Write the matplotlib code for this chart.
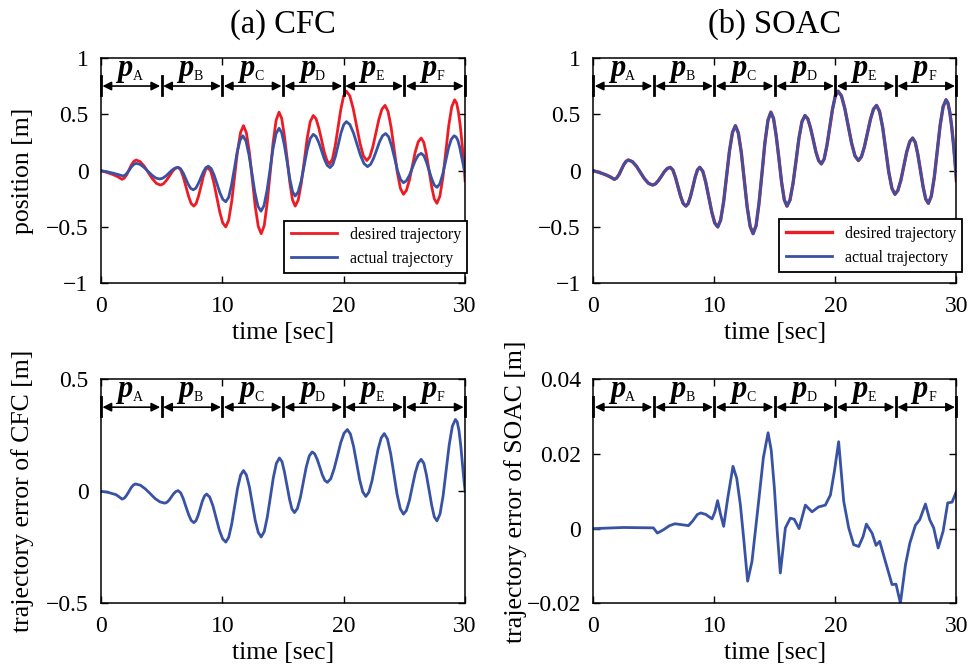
import matplotlib
matplotlib.use("Agg")
import matplotlib.pyplot as plt
from matplotlib.ticker import FuncFormatter

# desired trajectory (same for both controllers)
desired_t = [0, 0.5, 1.0, 1.4,
             1.74, 1.93, 2.13, 2.32, 2.51, 2.71,
             2.9, 3.23, 3.57, 3.9, 4.23, 4.57,
             4.9, 5.14, 5.38, 5.63, 5.87, 6.11,
             6.35, 6.57, 6.78, 7.0, 7.22, 7.43,
             7.65, 7.84, 8.03, 8.23, 8.42, 8.61,
             8.8, 9.05, 9.29, 9.54, 9.79, 10.03,
             10.28, 10.52, 10.77, 11.01, 11.25, 11.5,
             11.74, 11.98, 12.23, 12.47, 12.71, 12.96,
             13.2, 13.45, 13.69, 13.94, 14.18, 14.43,
             14.67, 14.89, 15.11, 15.34, 15.56, 15.78,
             16.0, 16.25, 16.5, 16.75, 16.99, 17.24,
             17.49, 17.72, 17.94, 18.17, 18.39, 18.62,
             18.84, 19.07, 19.3, 19.53, 19.76, 19.99,
             20.22, 20.5, 20.78, 21.06, 21.34, 21.62,
             21.9, 22.15, 22.4, 22.65, 22.9, 23.15,
             23.4, 23.65, 23.91, 24.16, 24.41, 24.67,
             24.92, 25.16, 25.41, 25.65, 25.89, 26.14,
             26.38, 26.6, 26.81, 27.03, 27.25, 27.46,
             27.68, 27.92, 28.17, 28.41, 28.65, 28.9,
             29.14, 29.3, 29.45, 29.6, 29.75, 29.88, 30]
desired_pos = [0, -0.016, -0.035, -0.055,
               -0.077, -0.065, -0.034, 0.009, 0.052, 0.083,
               0.095, 0.080, 0.039, -0.017, -0.072, -0.113,
               -0.128, -0.117, -0.088, -0.049, -0.009, 0.019,
               0.03, 0.007, -0.056, -0.143, -0.229, -0.292,
               -0.315, -0.292, -0.229, -0.143, -0.056, 0.007,
               0.03, -0.006, -0.103, -0.235, -0.368, -0.464,
               -0.5, -0.44, -0.275, -0.05, 0.175, 0.34,
               0.40, 0.336, 0.16, -0.08, -0.32, -0.496,
               -0.56, -0.488, -0.29, -0.02, 0.25, 0.448,
               0.52, 0.464, 0.311, 0.103, -0.106, -0.259,
               -0.315, -0.261, -0.114, 0.088, 0.289, 0.436,
               0.49, 0.461, 0.382, 0.275, 0.167, 0.089,
               0.06, 0.103, 0.222, 0.383, 0.545, 0.663,
               0.706, 0.665, 0.552, 0.398, 0.244, 0.131,
               0.09, 0.123, 0.213, 0.335, 0.458, 0.547,
               0.58, 0.527, 0.382, 0.185, -0.013, -0.157,
               -0.21, -0.176, -0.085, 0.04, 0.165, 0.257,
               0.29, 0.251, 0.145, 0.0, -0.145, -0.251,
               -0.29, -0.228, -0.06, 0.17, 0.40, 0.568,
               0.63, 0.60, 0.52, 0.40, 0.24, 0.08, -0.09]

# CFC actual trajectory
cfc_t = [0, 0.5, 1.0, 1.4,
         1.8, 1.98, 2.17, 2.35, 2.53, 2.72,
         2.9, 3.22, 3.54, 3.87, 4.19, 4.51,
         4.83, 5.08, 5.34, 5.59, 5.84, 6.1,
         6.35, 6.56, 6.77, 6.98, 7.18, 7.39,
         7.6, 7.81, 8.01, 8.22, 8.43, 8.63,
         8.84, 9.08, 9.32, 9.56, 9.8, 10.04,
         10.28, 10.52, 10.75, 10.99, 11.22, 11.46,
         11.69, 11.94, 12.19, 12.44, 12.68, 12.93,
         13.18, 13.43, 13.68, 13.93, 14.17, 14.42,
         14.67, 14.89, 15.11, 15.34, 15.56, 15.78,
         16.0, 16.25, 16.5, 16.75, 16.99, 17.24,
         17.49, 17.72, 17.95, 18.18, 18.41, 18.64,
         18.87, 19.1, 19.32, 19.55, 19.77, 20.0,
         20.22, 20.51, 20.8, 21.09, 21.38, 21.67,
         21.96, 22.21, 22.46, 22.71, 22.95, 23.2,
         23.45, 23.7, 23.94, 24.19, 24.43, 24.68,
         24.92, 25.16, 25.41, 25.65, 25.89, 26.14,
         26.38, 26.6, 26.81, 27.03, 27.25, 27.46,
         27.68, 27.92, 28.15, 28.39, 28.62, 28.86,
         29.09, 29.25, 29.4, 29.55, 29.7, 29.85, 30]
cfc_pos = [0, -0.01, -0.022, -0.034,
           -0.047, -0.04, -0.019, 0.009, 0.037, 0.057,
           0.065, 0.056, 0.03, -0.005, -0.039, -0.065,
           -0.074, -0.067, -0.048, -0.022, 0.004, 0.023,
           0.03, 0.017, -0.02, -0.07, -0.12, -0.157,
           -0.17, -0.156, -0.117, -0.065, -0.012, 0.026,
           0.04, 0.019, -0.039, -0.118, -0.197, -0.255,
           -0.276, -0.237, -0.129, 0.017, 0.164, 0.271,
           0.31, 0.265, 0.142, -0.025, -0.193, -0.315,
           -0.36, -0.311, -0.176, 0.009, 0.193, 0.328,
           0.377, 0.337, 0.226, 0.076, -0.075, -0.185,
           -0.225, -0.188, -0.088, 0.049, 0.186, 0.286,
           0.323, 0.303, 0.249, 0.175, 0.101, 0.047,
           0.027, 0.054, 0.129, 0.232, 0.334, 0.409,
           0.436, 0.409, 0.336, 0.236, 0.136, 0.063,
           0.036, 0.056, 0.11, 0.183, 0.257, 0.31,
           0.33, 0.301, 0.221, 0.112, 0.002, -0.078,
           -0.107, -0.09, -0.042, 0.024, 0.089, 0.137,
           0.154, 0.134, 0.078, 0.003, -0.073, -0.128,
           -0.148, -0.117, -0.033, 0.081, 0.196, 0.279,
           0.31, 0.30, 0.27, 0.21, 0.13, 0.05, -0.02]

# SOAC actual trajectory: indistinguishable from the desired one at this scale
soac_t = list(desired_t)
soac_pos = list(desired_pos)

# CFC trajectory error
cfc_err_t = [0, 0.6, 1.24, 1.5,
             1.74, 1.93, 2.11, 2.3, 2.48, 2.67,
             2.85, 3.25, 3.65, 4.05, 4.45, 4.85,
             5.25, 5.43, 5.62, 5.8, 5.98, 6.17,
             6.35, 6.57, 6.78, 7.0, 7.22, 7.43,
             7.65, 7.83, 8.0, 8.18, 8.35, 8.53,
             8.7, 8.96, 9.23, 9.49, 9.75, 10.02,
             10.28, 10.52, 10.77, 11.01, 11.25, 11.5,
             11.74, 11.98, 12.23, 12.47, 12.71, 12.96,
             13.2, 13.45, 13.7, 13.95, 14.2, 14.45,
             14.7, 14.91, 15.11, 15.32, 15.53, 15.73,
             15.94, 16.18, 16.43, 16.67, 16.91, 17.16,
             17.4, 17.61, 17.82, 18.03, 18.23, 18.44,
             18.65, 18.93, 19.2, 19.48, 19.75, 20.03,
             20.3, 20.55, 20.81, 21.06, 21.31, 21.57,
             21.82, 22.07, 22.33, 22.58, 22.83, 23.09,
             23.34, 23.6, 23.87, 24.13, 24.39, 24.66,
             24.92, 25.16, 25.41, 25.65, 25.89, 26.14,
             26.38, 26.6, 26.81, 27.03, 27.25, 27.46,
             27.68, 27.93, 28.19, 28.44, 28.69, 28.95,
             29.2, 29.35, 29.5, 29.65, 29.8, 29.92, 30]
cfc_err = [0, -0.005, -0.015, -0.025,
           -0.035, -0.03, -0.018, -0.001, 0.016, 0.028,
           0.033, 0.027, 0.011, -0.01, -0.032, -0.047,
           -0.053, -0.049, -0.039, -0.025, -0.011, -0.001,
           0.003, -0.007, -0.033, -0.069, -0.104, -0.13,
           -0.14, -0.131, -0.108, -0.076, -0.044, -0.021,
           -0.012, -0.026, -0.066, -0.12, -0.173, -0.212,
           -0.227, -0.206, -0.147, -0.067, 0.013, 0.072,
           0.093, 0.073, 0.019, -0.056, -0.13, -0.184,
           -0.204, -0.18, -0.116, -0.028, 0.061, 0.125,
           0.149, 0.133, 0.088, 0.027, -0.034, -0.079,
           -0.095, -0.077, -0.027, 0.041, 0.108, 0.158,
           0.176, 0.167, 0.142, 0.108, 0.074, 0.049,
           0.04, 0.056, 0.099, 0.158, 0.217, 0.26,
           0.276, 0.256, 0.201, 0.127, 0.052, -0.003,
           -0.023, -0.004, 0.047, 0.118, 0.188, 0.239,
           0.258, 0.234, 0.168, 0.078, -0.012, -0.078,
           -0.102, -0.086, -0.041, 0.021, 0.082, 0.127,
           0.143, 0.125, 0.074, 0.006, -0.063, -0.114,
           -0.132, -0.102, -0.019, 0.095, 0.208, 0.291,
           0.321, 0.31, 0.27, 0.2, 0.11, 0.04, 0.0]

# SOAC trajectory error
soac_err_t = [0, 2.48, 4.96, 5.3, 5.8, 6.3, 6.75, 7.2, 7.86, 8.2,
              8.6, 8.88, 9.3, 9.81, 10.05, 10.27, 10.5, 10.77, 11.1, 11.54,
              11.85, 12.15, 12.42, 12.75, 13.11, 13.66, 14.05, 14.44, 14.7, 14.96,
              15.2, 15.45, 15.87, 16.28, 16.6, 17.0, 17.52, 18.07, 18.6, 19.17,
              19.59, 19.92, 20.27, 20.69, 21.1, 21.51, 21.93, 22.29, 22.56, 23.03,
              23.36, 23.66, 24.13, 24.68, 25.01, 25.37, 25.79, 26.15, 26.61, 26.97,
              27.44, 27.79, 28.12, 28.49, 28.9, 29.28, 29.64, 30]
soac_err = [0, 0.0003, 0.0002, -0.0012, -0.0003, 0.0008, 0.0013, 0.0011, 0.0008, 0.002,
            0.0038, 0.0042, 0.0038, 0.0026, 0.0045, 0.0075, 0.004, 0.0006, 0.008, 0.0167,
            0.0135, 0.0064, -0.0025, -0.0141, -0.0088, 0.0073, 0.019, 0.0257, 0.021, 0.0109,
            -0.001, -0.0119, 0.0002, 0.0028, 0.0025, 0.0, 0.0063, 0.0045, 0.0058, 0.0063,
            0.009, 0.0154, 0.0233, 0.0073, 0.0002, -0.0043, -0.0048, -0.0021, 0.0012, -0.0012,
            -0.0045, -0.0034, -0.0088, -0.015, -0.0149, -0.02, -0.0097, -0.0039, 0.0009, 0.0024,
            0.0066, 0.0024, 0.0002, -0.0052, -0.0007, 0.0069, 0.0071, 0.01]

phases = ["A", "B", "C", "D", "E", "F"]
phase_edges = [0, 5, 10, 15, 20, 25, 30]

RED = "#ED1C24"
BLUE = "#3953A4"

plt.rcParams["font.family"] = ["Liberation Serif", "DejaVu Serif"]
plt.rcParams["font.size"] = 17
plt.rcParams["axes.linewidth"] = 1.1

tick_fmt = FuncFormatter(lambda v, pos: ("%g" % v).replace("-", "\u2212"))


def style_axes(ax, ylim, yticks):
    ax.set_xlim(0, 30)
    ax.set_ylim(*ylim)
    ax.set_xticks([0, 10, 20, 30])
    ax.set_yticks(yticks)
    ax.xaxis.set_major_formatter(tick_fmt)
    ax.yaxis.set_major_formatter(tick_fmt)
    ax.tick_params(direction="in", top=True, right=True, length=5, width=1, pad=9,
                   labelsize=17)
    ax.set_xlabel("time [sec]", fontsize=18.5, labelpad=4)


def draw_phases(ax):
    tr = ax.get_xaxis_transform()
    for x in phase_edges:
        ax.plot([x, x], [0.836, 0.92], color="black", lw=2, transform=tr, clip_on=False)
    for i, name in enumerate(phases):
        x0, x1 = phase_edges[i], phase_edges[i + 1]
        ax.annotate("", xy=(x0 + 0.12, 0.876), xytext=(x1 - 0.12, 0.876), xycoords=tr,
                    textcoords=tr,
                    arrowprops=dict(arrowstyle="<|-|>", color="black", lw=1.2,
                                    mutation_scale=13, shrinkA=0, shrinkB=0))
        ax.text(x0 + 2.0, 0.92, "p", transform=tr, ha="center", va="baseline",
                fontsize=22, fontweight="bold", fontstyle="italic")
        ax.text(x0 + 3.0, 0.905, name, transform=tr, ha="center", va="baseline",
                fontsize=10)


def add_legend(ax, anchor):
    leg = ax.legend(loc="lower left", bbox_to_anchor=anchor, fontsize=11.5,
                    fancybox=False, edgecolor="black", framealpha=1, handlelength=2.9,
                    borderaxespad=0)
    leg.get_frame().set_linewidth(1.3)


fig = plt.figure(figsize=(9.71, 6.68), dpi=100)
ax1 = fig.add_axes([0.104, 0.576, 0.375, 0.337])
ax2 = fig.add_axes([0.611, 0.576, 0.374, 0.337])
ax3 = fig.add_axes([0.104, 0.097, 0.375, 0.335])
ax4 = fig.add_axes([0.611, 0.097, 0.374, 0.335])

# (a) CFC position
ax1.plot(desired_t, desired_pos, color=RED, lw=2, label="desired trajectory")
ax1.plot(cfc_t, cfc_pos, color=BLUE, lw=2, label="actual trajectory")
style_axes(ax1, (-1, 1), [-1, -0.5, 0, 0.5, 1])
ax1.set_ylabel("position [m]", fontsize=18.5)
ax1.yaxis.set_label_coords(-0.184, 0.5)
ax1.set_title("(a) CFC", fontsize=23.5, pad=18)
draw_phases(ax1)
add_legend(ax1, (0.503, 0.044))

# (b) SOAC position
ax2.plot(desired_t, desired_pos, color=RED, lw=2.4, label="desired trajectory")
ax2.plot(soac_t, soac_pos, color=BLUE, lw=2, label="actual trajectory")
style_axes(ax2, (-1, 1), [-1, -0.5, 0, 0.5, 1])
ax2.set_title("(b) SOAC", fontsize=23.5, pad=18)
draw_phases(ax2)
add_legend(ax2, (0.512, 0.049))

# CFC error
ax3.plot(cfc_err_t, cfc_err, color=BLUE, lw=2)
style_axes(ax3, (-0.5, 0.5), [-0.5, 0, 0.5])
ax3.set_ylabel("trajectory error of CFC [m]", fontsize=18.5)
ax3.yaxis.set_label_coords(-0.184, 0.5)
draw_phases(ax3)

# SOAC error
ax4.plot(soac_err_t, soac_err, color=BLUE, lw=2)
style_axes(ax4, (-0.02, 0.04), [-0.02, 0, 0.02, 0.04])
ax4.set_ylabel("trajectory error of SOAC [m]", fontsize=18.5)
ax4.yaxis.set_label_coords(-0.182, 0.5)
draw_phases(ax4)

fig.savefig("out.png", dpi=100)
